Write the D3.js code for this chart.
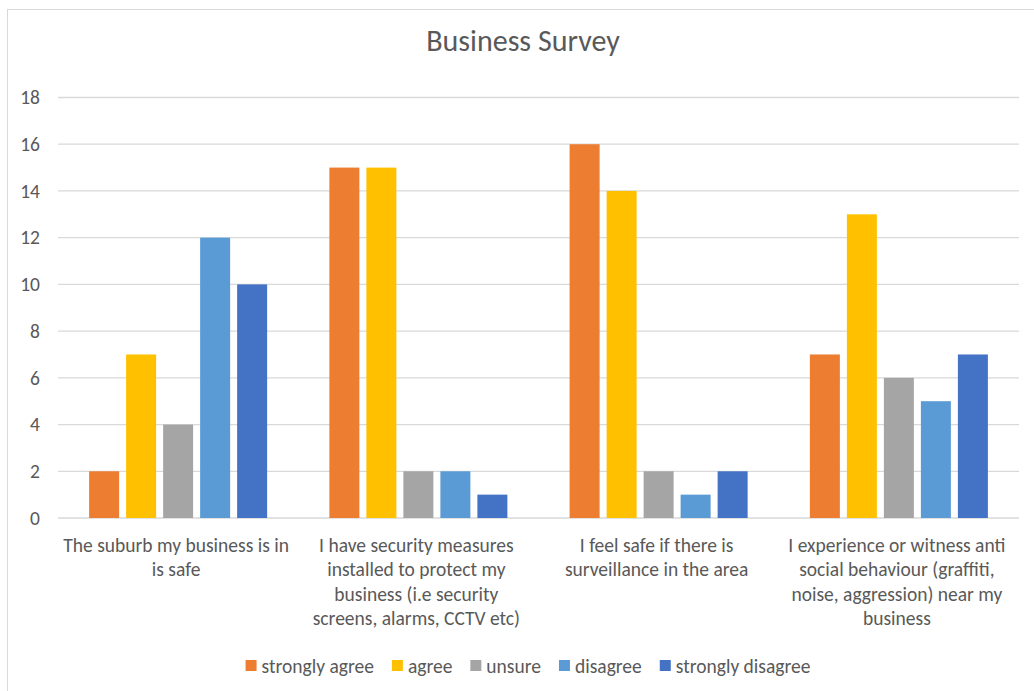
<!DOCTYPE html>
<html><head><meta charset="utf-8">
<script src="https://cdn.jsdelivr.net/npm/d3@7"></script>
<style>
html,body{margin:0;padding:0;background:#fff;}
svg{display:block;font-family:Carlito,Lato,sans-serif;}
</style></head><body>
<svg id="c" width="1034" height="691"></svg>
<script>
const title = "Business Survey";
const categories = [
  ["The suburb my business is in", "is safe"],
  ["I have security measures", "installed to protect my", "business (i.e security", "screens, alarms, CCTV etc)"],
  ["I feel safe if there is", "surveillance in the area"],
  ["I experience or witness anti", "social behaviour (graffiti,", "noise, aggression) near my", "business"]
];
const seriesNames = ["strongly agree", "agree", "unsure", "disagree", "strongly disagree"];
const stronglyAgree = [2, 15, 16, 7];
const agree = [7, 15, 14, 13];
const unsure = [4, 2, 2, 6];
const disagree = [12, 2, 1, 5];
const stronglyDisagree = [10, 1, 2, 7];
const yTicks = [0, 2, 4, 6, 8, 10, 12, 14, 16, 18];
const colors = ["#ED7D31", "#FFC000", "#A5A5A5", "#5B9BD5", "#4472C4"];

const seriesValues = [stronglyAgree, agree, unsure, disagree, stronglyDisagree];
const svg = d3.select("#c");
const FS = 19.5;

// chart border
svg.append("rect").attr("x", 7.5).attr("y", 9.5).attr("width", 1040).attr("height", 700)
  .attr("fill", "#fff").attr("stroke", "#d9d9d9");

const pLeft = 58, pRight = 1019, pTop = 97.5, pBottom = 518;
const catIdx = categories.map((d, i) => i);
const x0 = d3.scaleBand().domain(catIdx).range([pLeft, pRight]);
const x1 = d3.scaleBand().domain(seriesNames).range([0, x0.bandwidth()])
  .paddingInner(7/37).paddingOuter(0.841);
const y = d3.scaleLinear().domain([0, 18]).range([pBottom, pTop]);

// gridlines
svg.append("g").selectAll("line").data(yTicks).join("line")
  .attr("x1", pLeft).attr("x2", pRight)
  .attr("y1", d => y(d)).attr("y2", d => y(d))
  .attr("stroke", "#d9d9d9").attr("stroke-width", 1.3);

// y labels
svg.append("g").selectAll("text").data(yTicks).join("text")
  .attr("x", 40).attr("y", d => y(d)).attr("dy", "0.35em")
  .attr("text-anchor", "end").attr("fill", "#595959").attr("font-size", FS)
  .text(d => d);

// bars
const rows = catIdx.map(i => seriesNames.map((s, j) => ({cat: i, s, j, v: seriesValues[j][i]})));
svg.append("g").selectAll("g").data(rows).join("g")
  .attr("transform", (d, i) => `translate(${x0(i)},0)`)
  .selectAll("rect").data(d => d).join("rect")
  .attr("x", d => x1(d.s)).attr("width", x1.bandwidth())
  .attr("y", d => y(d.v)).attr("height", d => y(0) - y(d.v))
  .attr("fill", d => colors[d.j]);

// x labels
const xl = svg.append("g");
categories.forEach((lines, i) => {
  const t = xl.append("text").attr("text-anchor", "middle").attr("fill", "#595959").attr("font-size", FS);
  lines.forEach((ln, k) => {
    t.append("tspan").attr("x", x0(i) + x0.bandwidth()/2 - 2).attr("y", 551.5 + k*24.5).text(ln);
  });
});

// title
svg.append("text").attr("x", 523).attr("y", 51).attr("text-anchor", "middle")
  .attr("fill", "#595959").attr("font-size", 30).text(title);

// legend
const lg = svg.append("g");
let lx = 0;
seriesNames.forEach((s, j) => {
  const g = lg.append("g").attr("transform", `translate(${lx},0)`);
  g.append("rect").attr("x", 0).attr("y", -6).attr("width", 11).attr("height", 11).attr("fill", colors[j]);
  const t = g.append("text").attr("x", 16).attr("y", 0).attr("dy", "0.35em")
    .attr("fill", "#595959").attr("font-size", FS).text(s);
  lx += 16 + t.node().getComputedTextLength() + 18;
});
const lw = lx - 18;
lg.attr("transform", `translate(${528 - lw/2},666)`);
</script>
</body></html>
